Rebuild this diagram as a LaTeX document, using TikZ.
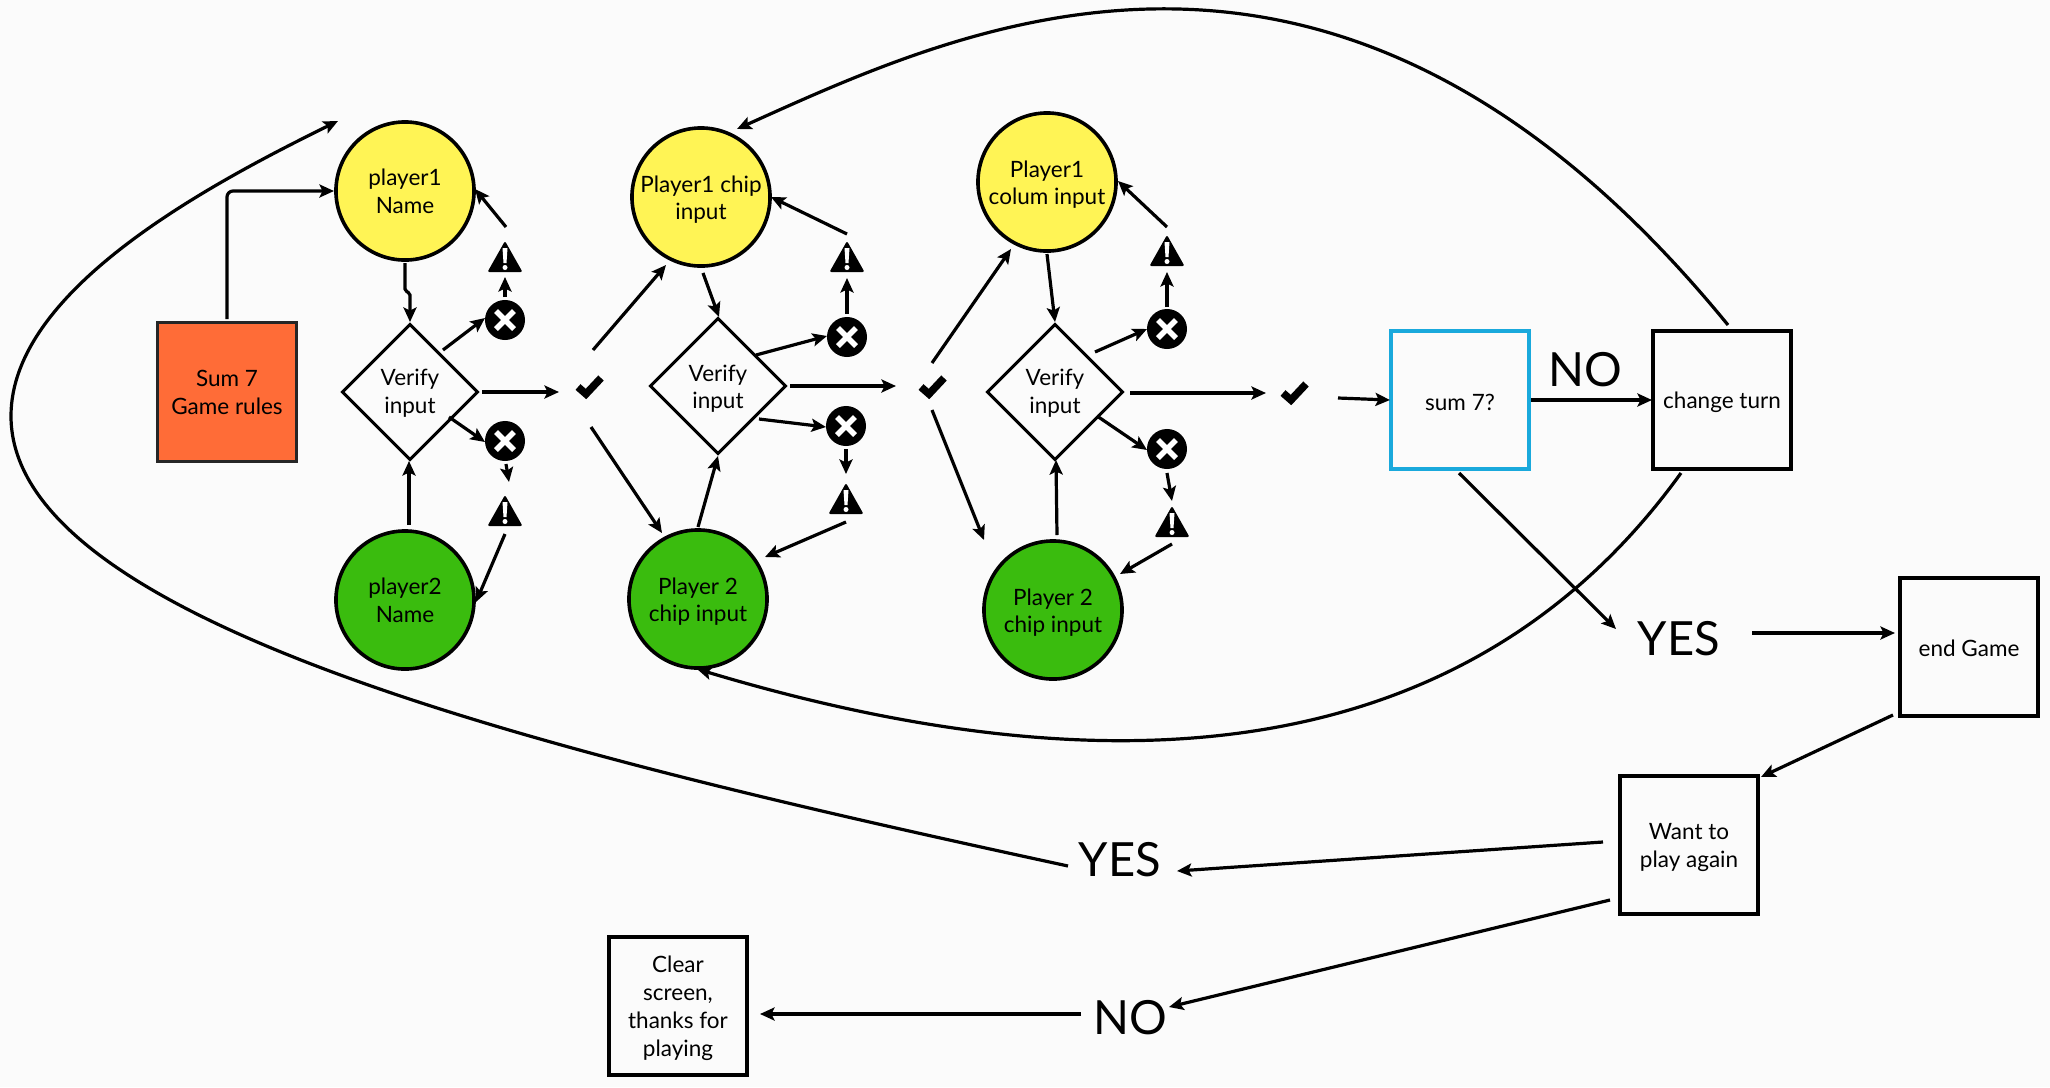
\documentclass[tikz,border=0pt]{standalone}
\usepackage{fontspec}
\setmainfont{Lato}
\usetikzlibrary{arrows.meta,shapes.geometric}
\definecolor{bg}{HTML}{FBFBFB}
\definecolor{pyellow}{HTML}{FFF455}
\definecolor{pgreen}{HTML}{3ABC0E}
\definecolor{porange}{HTML}{FF6C37}
\definecolor{pblue}{HTML}{1AA9DC}
\newcommand{\conn}[4]{\draw[arr] ([shift={(#2)}]#1.center) -- ([shift={(#4)}]#3.center);}
\newcommand{\lowa}{\rule{0pt}{6.2pt}}
\newcommand{\lowb}{\rule{0pt}{5.4pt}}
\tikzset{
  x=0.01cm,y=-0.01cm,
  arr/.style={line width=0.32mm,draw=black,-{Stealth[length=1.45mm,width=1.3mm,inset=0.3mm]}},
  small/.style={font=\fontsize{6.4}{7.95}\selectfont,align=center,inner sep=0pt,outer sep=0pt,text=black},
  big/.style={font=\fontsize{13.4}{15}\selectfont,inner sep=0pt,outer sep=0pt,text=black},
  pcircle/.style={small,circle,draw=black,line width=0.36mm,minimum size=1.38cm},
  ycircle/.style={pcircle,fill=pyellow},
  gcircle/.style={pcircle,fill=pgreen},
  verify/.style={small,diamond,draw=black,line width=0.3mm,fill=bg,minimum size=1.35cm},
  pbox/.style={small,rectangle,draw=black,line width=0.34mm,fill=bg,minimum size=1.38cm},
  xnode/.style={circle,fill=black,inner sep=0pt,minimum size=0.4cm,
    path picture={\draw[white,line width=0.055cm] (path picture bounding box.center) ++(-9,-9) -- ++(18,18)
      (path picture bounding box.center) ++(-9,9) -- ++(18,-18);}},
  wnode/.style={rectangle,inner sep=0pt,minimum width=0.36cm,minimum height=0.34cm,
    path picture={\fill[black,rounded corners=0.02cm] (path picture bounding box.center) ++(0,-17) -- ++(17.5,31) -- ++(-35,0) -- cycle;
      \fill[white] (path picture bounding box.center) ++(-2.5,-10) -- ++(5,0) -- ++(-1,15) -- ++(-3,0) -- cycle;
      \fill[white] (path picture bounding box.center) ++(0,9.5) circle (0.025cm);}},
  cnode/.style={rectangle,inner sep=0pt,minimum width=0.36cm,minimum height=0.32cm,
    path picture={\draw[black,line width=0.075cm,miter limit=10] (path picture bounding box.center) ++(-11,1) -- ++(8,7) -- ++(15,-16);}},
}
\begin{document}
\begin{tikzpicture}
\path[fill=bg] (0,0) rectangle (2050,1087);
\useasboundingbox (0,0) rectangle (2050,1087);

% nodes
\node[small,rectangle,draw=black!85,line width=0.22mm,fill=porange,minimum size=1.39cm] (rules) at (227,392) {Sum 7\\Game rules};
\node[ycircle] (p1) at (405,191) {player1\\Name};
\node[gcircle] (p2) at (405,600) {player2\\Name};
\node[verify] (d1) at (410,392) {\lowb Verify\\input};
\node[xnode] (x1u) at (505,320) {};
\node[wnode] (w1u) at (505,258) {};
\node[xnode] (x1l) at (505,441) {};
\node[wnode] (w1l) at (505,512) {};
\node[cnode] (ck1) at (589,386) {};

\node[ycircle] (pc1) at (701,197) {\lowa Player1 chip\\input};
\node[gcircle] (pc2) at (698,599) {\lowa Player 2\\chip input};
\node[verify] (d2) at (718,386) {\lowa Verify\\input};
\node[xnode] (x2u) at (847,337) {};
\node[wnode] (w2u) at (847,258) {};
\node[xnode] (x2l) at (846,426) {};
\node[wnode] (w2l) at (846,500) {};
\node[cnode] (ck2) at (932,386) {};

\node[ycircle] (pk1) at (1047,182) {\lowa Player1\\colum input};
\node[gcircle] (pk2) at (1053,610) {\lowa Player 2\\chip input};
\node[verify] (d3) at (1055,392) {\lowb Verify\\input};
\node[xnode] (x3u) at (1167,329) {};
\node[wnode] (w3u) at (1167,252) {};
\node[xnode] (x3l) at (1167,449) {};
\node[wnode] (w3l) at (1172,523) {};
\node[cnode] (ck3) at (1294,392) {};

\node[pbox,draw=pblue] (sum) at (1460,400) {\lowa sum 7?};
\node[pbox] (change) at (1722,400) {\lowa change turn};
\node[pbox] (endg) at (1969,647) {\lowb end Game};
\node[pbox] (want) at (1689,845) {\lowa Want to\\play again};
\node[pbox] (clear) at (678,1006) {\lowa Clear\\screen,\\thanks for\\playing};

\node[big] (no1) at (1585,370) {NO};
\node[big] (yes1) at (1679,639) {YES};
\node[big] (yes2) at (1120,860) {YES};
\node[big] (no2) at (1130,1018) {NO};
\coordinate (loopend) at (338,121);

% connectors
\draw[arr,rounded corners=0.06cm] ([shift={(0,-73)}]rules.center) |- ([shift={(-71,0)}]p1.center);
\draw[arr,rounded corners=0.02cm] ([shift={(0,72)}]p1.center) -- ++(0,28) -- ++(5,2) -- ([shift={(0,-70)}]d1.center);
\conn{d1}{33,-42}{x1u}{-20,-2}
\conn{x1u}{0,-23}{w1u}{0,19}
\conn{w1u}{1,-31}{p1}{70,-2}
\conn{d1}{72,0}{ck1}{-30,6}
\conn{d1}{39,25}{x1l}{-20,1}
\conn{x1l}{1,23}{w1l}{4,-30}
\conn{w1l}{0,22}{p2}{71,2}
\conn{p2}{4,-75}{d1}{-1,69}
\conn{ck1}{4,-36}{pc1}{-35,68}
\conn{ck1}{2,41}{pc2}{-36,-66}
\conn{pc1}{2,76}{d2}{1,-69}
\conn{d2}{38,-31}{x2u}{-20,-1}
\conn{x2u}{0,-23}{w2u}{0,20}
\conn{w2u}{0,-24}{pc1}{70,0}
\conn{d2}{72,0}{ck2}{-36,0}
\conn{d2}{41,33}{x2l}{-20,1}
\conn{x2l}{0,23}{w2l}{0,-26}
\conn{w2l}{0,22}{pc2}{67,-42}
\conn{pc2}{0,-72}{d2}{0,70}
\conn{ck2}{0,-23}{pk1}{-36,67}
\conn{ck2}{0,24}{pk2}{-69,-70}
\conn{pk1}{0,72}{d3}{0,-70}
\conn{d3}{40,-40}{x3u}{-20,0}
\conn{x3u}{0,-22}{w3u}{0,20}
\conn{w3u}{0,-25}{pk1}{71,-1}
\conn{d3}{75,1}{ck3}{-28,1}
\conn{d3}{42,24}{x3l}{-20,1}
\conn{x3l}{0,24}{w3l}{0,-22}
\conn{w3l}{0,21}{pk2}{67,-36}
\conn{pk2}{4,-75}{d3}{1,68}
\conn{ck3}{44,6}{sum}{-70,0}
\conn{sum}{71,0}{change}{-70,0}
\conn{sum}{-1,73}{yes1}{-63,-10}
\conn{yes1}{73,-6}{endg}{-74,-14}
\conn{endg}{-76,68}{want}{72,-68}
\conn{want}{-86,-3}{yes2}{57,11}
\conn{want}{-79,55}{no2}{39,-11}
\conn{no2}{-49,-4}{clear}{82,8}

% long curves
\draw[arr] ([shift={(6,-75)}]change.center) .. controls (1340,-150) and (970,24) .. ([shift={(36,-68)}]pc1.center);
\draw[arr] ([shift={(-41,73)}]change.center) .. controls (1445,800) and (1050,775) .. ([shift={(-1,70)}]pc2.center);
\draw[arr] ([shift={(-52,6)}]yes2.center) .. controls (560,756) and (11,625) .. (11,416) .. controls (11,290) and (208,185) .. (loopend);
\end{tikzpicture}
\end{document}
